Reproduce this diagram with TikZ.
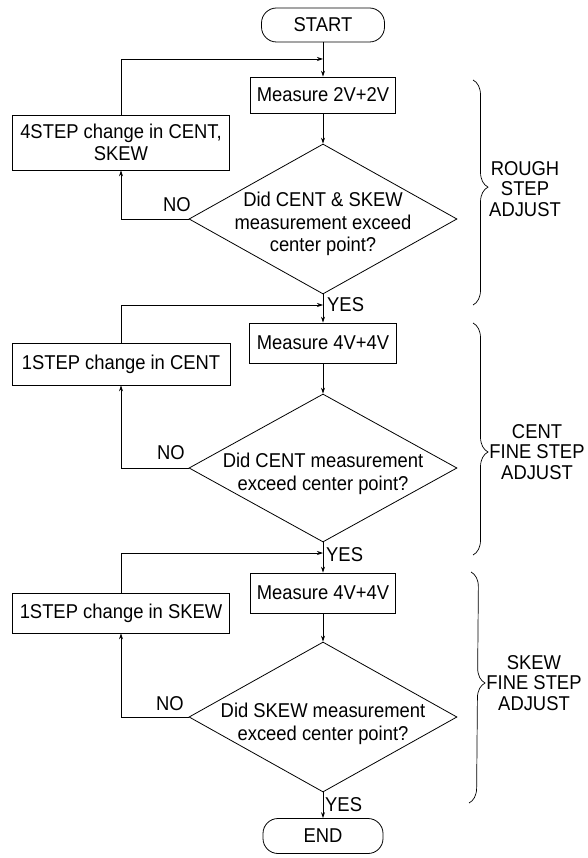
\documentclass[tikz,border=0pt]{standalone}
\usepackage{fontspec}
\setmainfont{Liberation Sans}[FakeStretch=0.92]
\usetikzlibrary{shapes.geometric,arrows.meta,decorations.pathreplacing}
\begin{document}
\begin{tikzpicture}[x=1pt,y=-1pt,
  every node/.style={font=\fontsize{20}{22.5}\selectfont, inner sep=0pt},
  box/.style={draw, line width=0.8pt, align=center},
  term/.style={draw, line width=0.8pt, rounded corners=15pt, minimum width=123pt, minimum height=34pt},
  dia/.style={draw, line width=0.8pt, shape=diamond, minimum width=268pt, minimum height=150pt},
  arr/.style={line width=0.7pt, -{Stealth[length=6pt,width=4pt]}},
  brc/.style={line width=0.7pt, decorate},
  blabel/.style={align=center, font=\fontsize{20}{20.5}\selectfont}
]
\useasboundingbox (0,0) rectangle (587,858);

% main column
\node[term] (start) at (323,25) {START};
\node[box, minimum width=145pt, minimum height=36pt] (m1) at (323,95) {Measure 2V+2V};
\node[dia] (d1) at (323,219) {};
\node[align=center] (t1) at (323,224) {Did CENT \& SKEW\\measurement exceed\\center point?};
\node[box, minimum width=217pt, minimum height=55pt] (l1) at (121,142.5) {4STEP change in CENT,\\SKEW};
\node (no1) at (177,205) {NO};
\node[anchor=west] (yes1) at (327,305) {YES};

\node[box, minimum width=147pt, minimum height=40pt] (m2) at (323,343) {Measure 4V+4V};
\node[dia, minimum height=148pt] (d2) at (323,468) {};
\node[align=center] (t2) at (323,474) {Did CENT measurement\\exceed center point?};
\node[box, minimum width=218pt, minimum height=42pt] (l2) at (121,364) {1STEP change in CENT};
\node (no2) at (171,453) {NO};
\node[anchor=west] (yes2) at (326,555) {YES};

\node[box, minimum width=145pt, minimum height=40pt] (m3) at (323,593) {Measure 4V+4V};
\node[dia] (d3) at (323,717) {};
\node[align=center] (t3) at (323,724) {Did SKEW measurement\\exceed center point?};
\node[box, minimum width=217pt, minimum height=40pt] (l3) at (121,613) {1STEP change in SKEW};
\node (no3) at (170,704) {NO};
\node[anchor=west] (yes3) at (325,805) {YES};

\node[term, minimum width=120pt, minimum height=35pt] (end) at (323,836) {END};

% loop join points
\coordinate (j1) at (323,59);
\coordinate (j2) at (323,305);
\coordinate (j3) at (323,553);

% connectors
\draw[arr] (start.south) -- (m1.north);
\draw[arr] (m1.south) -- (d1.north);
\draw[arr] (d1.west) -| (l1.south);
\draw[arr] (l1.north) |- (j1);
\draw[arr] (d1.south) -- (m2.north);

\draw[arr] (m2.south) -- (d2.north);
\draw[arr] (d2.west) -| (l2.south);
\draw[arr] (l2.north) |- (j2);
\draw[arr] (d2.south) -- (m3.north);

\draw[arr] (m3.south) -- (d3.north);
\draw[arr] (d3.west) -| (l3.south);
\draw[arr] (l3.north) |- (j3);
\draw[arr] (d3.south) -- (end.north);

% braces
\coordinate (bt1) at (473,80);  \coordinate (bb1) at (473,305);
\coordinate (bt2) at (473,323); \coordinate (bb2) at (473,555);
\coordinate (bt3) at (471,572); \coordinate (bb3) at (469,803);
\draw[brc, decoration={brace, amplitude=15pt, aspect=0.476}] (bt1) -- (bb1);
\draw[brc, decoration={brace, amplitude=15pt, aspect=0.556}] (bt2) -- (bb2);
\draw[brc, decoration={brace, amplitude=15pt, aspect=0.48}] (bt3) -- (bb3);
\node[blabel] (g1) at (525,189) {ROUGH\\STEP\\ADJUST};
\node[blabel] (g2) at (537,452) {CENT\\FINE STEP\\ADJUST};
\node[blabel] (g3) at (534,683) {SKEW\\FINE STEP\\ADJUST};
\end{tikzpicture}
\end{document}
